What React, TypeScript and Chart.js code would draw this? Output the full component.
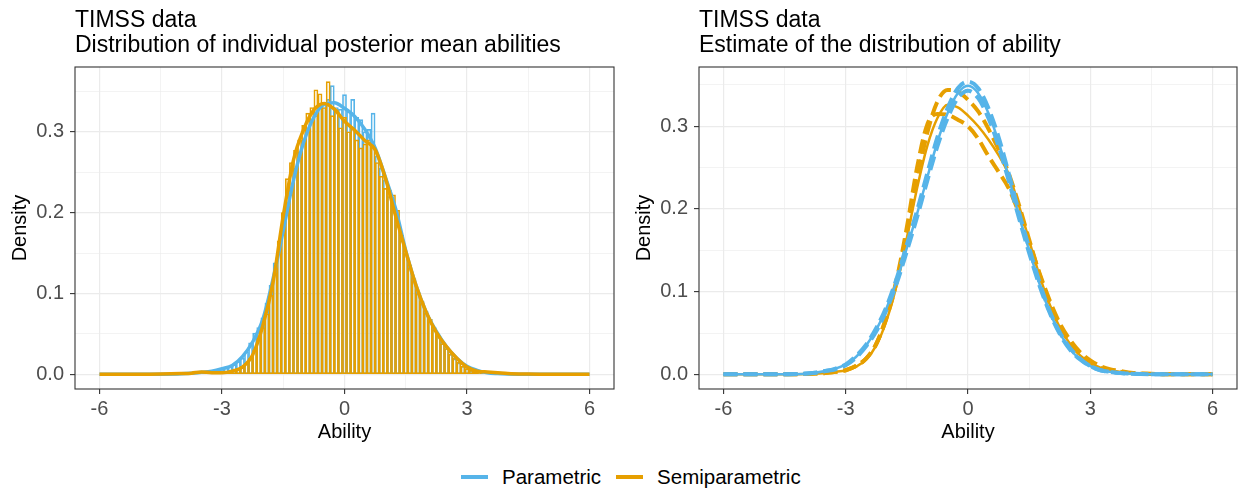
import React, { useEffect, useRef } from "react";
import { Chart, registerables } from "chart.js";

Chart.register(...registerables);

const FONT = "'Liberation Sans', Arial, Helvetica, sans-serif";
const BLUE = "#56B4E9";
const ORANGE = "#E69F00";
const GRID = "#EBEBEB";

// ---------- axis ticks ----------
const xMajorTicks = [-6, -3, 0, 3, 6];
const xMinorTicks = [-4.5, -1.5, 1.5, 4.5];
const yMajorTicks = [0, 0.1, 0.2, 0.3];
const yMinorTicks = [0.05, 0.15, 0.25, 0.35];

// ---------- left panel: histograms (bin width 0.1) ----------
const histBins = [
  -3.4, -3.3, -3.2, -3.1, -3.0, -2.9, -2.8, -2.7, -2.6, -2.5,
  -2.4, -2.3, -2.2, -2.1, -2.0, -1.9, -1.8, -1.7, -1.6, -1.5,
  -1.4, -1.3, -1.2, -1.1, -1.0, -0.9, -0.8, -0.7, -0.6, -0.5,
  -0.4, -0.3, -0.2, -0.1, 0.0, 0.1, 0.2, 0.3, 0.4, 0.5,
  0.6, 0.7, 0.8, 0.9, 1.0, 1.1, 1.2, 1.3, 1.4, 1.5,
  1.6, 1.7, 1.8, 1.9, 2.0, 2.1, 2.2, 2.3, 2.4, 2.5,
  2.6, 2.7, 2.8, 2.9, 3.0, 3.1, 3.2, 3.3, 3.4, 3.5,
  3.6, 3.7, 3.8, 3.9, 4.0,
];
const histSemi = [
  0.003, 0.004, 0.002, 0.001, 0.002, 0.003, 0.004, 0.006, 0.007, 0.010,
  0.014, 0.020, 0.030, 0.045, 0.058, 0.075, 0.098, 0.128, 0.165, 0.200,
  0.242, 0.262, 0.277, 0.290, 0.308, 0.323, 0.330, 0.352, 0.347, 0.330,
  0.362, 0.320, 0.327, 0.305, 0.318, 0.300, 0.305, 0.290, 0.280, 0.285,
  0.290, 0.282, 0.262, 0.245, 0.230, 0.228, 0.222, 0.203, 0.172, 0.150,
  0.132, 0.118, 0.100, 0.090, 0.076, 0.068, 0.055, 0.048, 0.038, 0.032,
  0.025, 0.020, 0.015, 0.010, 0.007, 0.005, 0.004, 0.003, 0.002, 0.002,
  0.001, 0.003, 0.002, 0.001, 0.001,
];
const histParam = [
  0.001, 0.002, 0.003, 0.004, 0.006, 0.008, 0.010, 0.012, 0.016, 0.020,
  0.028, 0.039, 0.051, 0.058, 0.070, 0.088, 0.110, 0.138, 0.150, 0.180,
  0.205, 0.228, 0.255, 0.275, 0.290, 0.305, 0.315, 0.320, 0.330, 0.335,
  0.340, 0.357, 0.330, 0.328, 0.346, 0.325, 0.340, 0.318, 0.315, 0.300,
  0.303, 0.323, 0.270, 0.255, 0.240, 0.220, 0.205, 0.185, 0.165, 0.150,
  0.135, 0.118, 0.102, 0.090, 0.078, 0.068, 0.058, 0.048, 0.040, 0.032,
  0.025, 0.019, 0.014, 0.010, 0.007, 0.005, 0.003, 0.002, 0.001, 0.001,
  0.001, 0, 0, 0, 0,
];

// ---------- density curves (evaluated at densX) ----------
const densX = [
  -6, -5, -4.5, -4, -3.75, -3.5, -3.25, -3, -2.75, -2.5, -2.25, -2, -1.75,
  -1.5, -1.25, -1, -0.75, -0.5, -0.25, 0, 0.25, 0.5, 0.75, 1, 1.25, 1.5,
  1.75, 2, 2.25, 2.5, 2.75, 3, 3.25, 3.5, 3.75, 4, 4.5, 5, 6,
];
// left panel
const leftParam = [
  0, 0, 0.0002, 0.0008, 0.0015, 0.0025, 0.004, 0.007, 0.011, 0.022, 0.040, 0.068, 0.118,
  0.178, 0.240, 0.287, 0.318, 0.334, 0.336, 0.329, 0.319, 0.303, 0.280, 0.244, 0.205, 0.153,
  0.110, 0.077, 0.053, 0.034, 0.020, 0.010, 0.005, 0.002, 0.001, 0.0005, 0.0002, 0, 0,
];
const leftSemi = [
  0, 0, 0.0003, 0.001, 0.0015, 0.003, 0.002, 0.002, 0.004, 0.009, 0.024, 0.060, 0.114,
  0.196, 0.265, 0.303, 0.327, 0.335, 0.328, 0.313, 0.302, 0.289, 0.278, 0.243, 0.196, 0.152,
  0.110, 0.077, 0.052, 0.034, 0.020, 0.009, 0.004, 0.003, 0.002, 0.001, 0.0003, 0, 0,
];
// right panel
const rightParam = [
  0, 0, 0.0002, 0.0008, 0.002, 0.004, 0.007, 0.012, 0.021, 0.035, 0.054, 0.080, 0.113,
  0.153, 0.194, 0.238, 0.281, 0.316, 0.340, 0.349, 0.340, 0.316, 0.281, 0.238, 0.192, 0.150,
  0.110, 0.076, 0.050, 0.031, 0.018, 0.010, 0.005, 0.003, 0.0015, 0.0008, 0.0002, 0, 0,
];
const rightParamUpper = [
  0, 0, 0.0002, 0.0009, 0.002, 0.004, 0.007, 0.012, 0.022, 0.036, 0.056, 0.082, 0.116,
  0.157, 0.198, 0.243, 0.287, 0.322, 0.346, 0.354, 0.346, 0.322, 0.287, 0.243, 0.196, 0.153,
  0.112, 0.077, 0.051, 0.032, 0.019, 0.010, 0.005, 0.003, 0.0015, 0.0008, 0.0002, 0, 0,
];
const rightParamLower = [
  0, 0, 0.0002, 0.0008, 0.002, 0.004, 0.006, 0.011, 0.020, 0.034, 0.052, 0.078, 0.110,
  0.149, 0.190, 0.234, 0.276, 0.310, 0.334, 0.343, 0.334, 0.310, 0.276, 0.234, 0.189, 0.147,
  0.108, 0.075, 0.049, 0.030, 0.018, 0.010, 0.005, 0.003, 0.0015, 0.0008, 0.0002, 0, 0,
];
const rightSemi = [
  0, 0, 0.0001, 0.0004, 0.001, 0.0015, 0.003, 0.005, 0.009, 0.018, 0.035, 0.065, 0.108,
  0.165, 0.225, 0.276, 0.310, 0.326, 0.323, 0.313, 0.300, 0.284, 0.265, 0.242, 0.204, 0.162,
  0.120, 0.085, 0.057, 0.037, 0.023, 0.014, 0.008, 0.005, 0.003, 0.0015, 0.0005, 0.0001, 0,
];
const rightSemiUpper = [
  0, 0, 0.0001, 0.0004, 0.001, 0.0015, 0.003, 0.005, 0.010, 0.019, 0.037, 0.068, 0.112,
  0.170, 0.235, 0.292, 0.330, 0.344, 0.342, 0.332, 0.318, 0.297, 0.272, 0.243, 0.205, 0.163,
  0.122, 0.086, 0.058, 0.038, 0.024, 0.014, 0.008, 0.005, 0.003, 0.0015, 0.0005, 0.0001, 0,
];
const rightSemiLower = [
  0, 0, 0.0001, 0.0004, 0.001, 0.0015, 0.003, 0.005, 0.010, 0.019, 0.037, 0.070, 0.115,
  0.178, 0.250, 0.302, 0.315, 0.314, 0.308, 0.300, 0.285, 0.264, 0.245, 0.225, 0.195, 0.160,
  0.123, 0.090, 0.062, 0.042, 0.027, 0.017, 0.010, 0.006, 0.004, 0.002, 0.0006, 0.0001, 0,
];

const legendItems = [
  { label: "Parametric", color: BLUE },
  { label: "Semiparametric", color: ORANGE },
];

// ---------- helpers ----------
const near = (a: number, list: number[]) => list.some((m) => Math.abs(a - m) < 1e-9);
const pts = (xs: number[], ys: number[]) => xs.map((x, i) => ({ x, y: ys[i] }));
const histPts = (ys: number[]) =>
  histBins.map((x, i) => ({ x, y: ys[i] })).filter((p) => p.y > 0);

const panelBorder = {
  id: "panelBorder",
  afterDatasetsDraw(chart: any) {
    const { ctx, chartArea: a } = chart;
    ctx.save();
    ctx.strokeStyle = "#333333";
    ctx.lineWidth = 1.1;
    ctx.strokeRect(a.left, a.top, a.right - a.left, a.bottom - a.top);
    ctx.restore();
  },
};

function scales(yMin: number, yMax: number) {
  return {
    x: {
      type: "linear",
      min: -6.6,
      max: 6.6,
      offset: false,
      afterBuildTicks: (s: any) => {
        s.ticks = [...xMajorTicks, ...xMinorTicks].sort((a, b) => a - b).map((v) => ({ value: v }));
      },
      afterFit: (s: any) => {
        s.height = 61;
      },
      border: { display: false },
      grid: {
        offset: false,
        color: GRID,
        lineWidth: (c: any) => (c.tick && near(c.tick.value, xMajorTicks) ? 1.2 : 0.6),
        tickColor: (c: any) => (c.tick && near(c.tick.value, xMajorTicks) ? "#333333" : "rgba(0,0,0,0)"),
        tickLength: 5,
        tickWidth: 1.1,
      },
      ticks: {
        autoSkip: false,
        maxRotation: 0,
        padding: 3,
        color: "#4D4D4D",
        font: { family: FONT, size: 20 },
        callback: (v: any) => (near(Number(v), xMajorTicks) ? String(v) : ""),
      },
      title: {
        display: true,
        text: "Ability",
        color: "#000000",
        font: { family: FONT, size: 20, lineHeight: 1.2 },
        padding: { top: 0, bottom: 6 },
      },
    },
    y: {
      type: "linear",
      min: yMin,
      max: yMax,
      afterBuildTicks: (s: any) => {
        s.ticks = [...yMajorTicks, ...yMinorTicks].sort((a, b) => a - b).map((v) => ({ value: v }));
      },
      afterFit: (s: any) => {
        s.width = 75;
      },
      border: { display: false },
      grid: {
        color: GRID,
        lineWidth: (c: any) => (c.tick && near(c.tick.value, yMajorTicks) ? 1.2 : 0.6),
        tickColor: (c: any) => (c.tick && near(c.tick.value, yMajorTicks) ? "#333333" : "rgba(0,0,0,0)"),
        tickLength: 5,
        tickWidth: 1.1,
      },
      ticks: {
        autoSkip: false,
        padding: 6,
        color: "#4D4D4D",
        font: { family: FONT, size: 20 },
        callback: (v: any) => (near(Number(v), yMajorTicks) ? Number(v).toFixed(1) : ""),
      },
      title: {
        display: true,
        text: "Density",
        color: "#000000",
        font: { family: FONT, size: 20, lineHeight: 1.2 },
        padding: { top: 8, bottom: 0 },
      },
    },
  };
}

function baseOptions(yMin: number, yMax: number, padRight: number) {
  return {
    responsive: false,
    animation: false,
    devicePixelRatio: 1,
    layout: { padding: { top: 67, left: 0, right: padRight, bottom: 0 } },
    plugins: { legend: { display: false }, tooltip: { enabled: false }, title: { display: false } },
    elements: { point: { radius: 0 } },
    scales: scales(yMin, yMax),
  };
}

function lineDs(label: string, data: any[], color: string, width: number, dash: number[], order: number) {
  return {
    type: "line",
    label,
    data,
    borderColor: color,
    backgroundColor: color,
    borderWidth: width,
    borderDash: dash,
    borderCapStyle: "butt",
    pointRadius: 0,
    fill: false,
    cubicInterpolationMode: "monotone",
    order,
  };
}

function histDs(label: string, data: any[], color: string, order: number) {
  return {
    type: "bar",
    label,
    data,
    borderColor: color,
    backgroundColor: "rgba(0,0,0,0)",
    borderWidth: 1,
    borderSkipped: false,
    barPercentage: 1,
    categoryPercentage: 1,
    grouped: false,
    order,
  };
}

function leftConfig(): any {
  return {
    type: "line",
    data: {
      datasets: [
        lineDs("Semiparametric density", pts(densX, leftSemi), ORANGE, 3.5, [], 0),
        lineDs("Parametric density", pts(densX, leftParam), BLUE, 3.5, [], 1),
        histDs("Semiparametric histogram", histPts(histSemi), ORANGE, 2),
        histDs("Parametric histogram", histPts(histParam), BLUE, 3),
      ],
    },
    options: baseOptions(-0.0181, 0.3801, 6),
    plugins: [panelBorder],
  };
}

function rightConfig(): any {
  return {
    type: "line",
    data: {
      datasets: [
        lineDs("Parametric upper", pts(densX, rightParamUpper), BLUE, 4, [14, 6], 0),
        lineDs("Parametric lower", pts(densX, rightParamLower), BLUE, 4, [14, 6], 1),
        lineDs("Parametric", pts(densX, rightParam), BLUE, 2.5, [], 2),
        lineDs("Semiparametric upper", pts(densX, rightSemiUpper), ORANGE, 4, [14, 6], 3),
        lineDs("Semiparametric lower", pts(densX, rightSemiLower), ORANGE, 4, [14, 6], 4),
        lineDs("Semiparametric", pts(densX, rightSemi), ORANGE, 2.5, [], 5),
      ],
    },
    options: baseOptions(-0.0177, 0.3717, 1),
    plugins: [panelBorder],
  };
}

export default function App() {
  const leftRef = useRef<HTMLCanvasElement>(null);
  const rightRef = useRef<HTMLCanvasElement>(null);

  useEffect(() => {
    const c1 = new Chart(leftRef.current as HTMLCanvasElement, leftConfig());
    const c2 = new Chart(rightRef.current as HTMLCanvasElement, rightConfig());
    return () => {
      c1.destroy();
      c2.destroy();
    };
  }, []);

  const titleStyle: React.CSSProperties = {
    position: "absolute",
    top: 7,
    fontSize: 23,
    lineHeight: "25px",
    color: "#000",
    whiteSpace: "nowrap",
  };

  return (
    <div
      style={{
        position: "fixed",
        left: 0,
        top: 0,
        width: 1238,
        height: 489,
        background: "#ffffff",
        overflow: "hidden",
        fontFamily: FONT,
      }}
    >
      <canvas ref={leftRef} width={620} height={450} style={{ position: "absolute", left: 0, top: 0 }} />
      <canvas ref={rightRef} width={614} height={450} style={{ position: "absolute", left: 624, top: 0 }} />
      <div style={{ ...titleStyle, left: 75 }}>
        TIMSS data
        <br />
        Distribution of individual posterior mean abilities
      </div>
      <div style={{ ...titleStyle, left: 699 }}>
        TIMSS data
        <br />
        Estimate of the distribution of ability
      </div>
      <div style={{ position: "absolute", left: 461, top: 466, height: 22, display: "flex", alignItems: "center" }}>
        {legendItems.map((it, i) => (
          <div key={it.label} style={{ display: "flex", alignItems: "center", marginLeft: i === 0 ? 0 : 15 }}>
            <div style={{ width: 27, height: 4, background: it.color }} />
            <span style={{ marginLeft: 14, fontSize: 20.5, lineHeight: "22px", color: "#000" }}>{it.label}</span>
          </div>
        ))}
      </div>
    </div>
  );
}
